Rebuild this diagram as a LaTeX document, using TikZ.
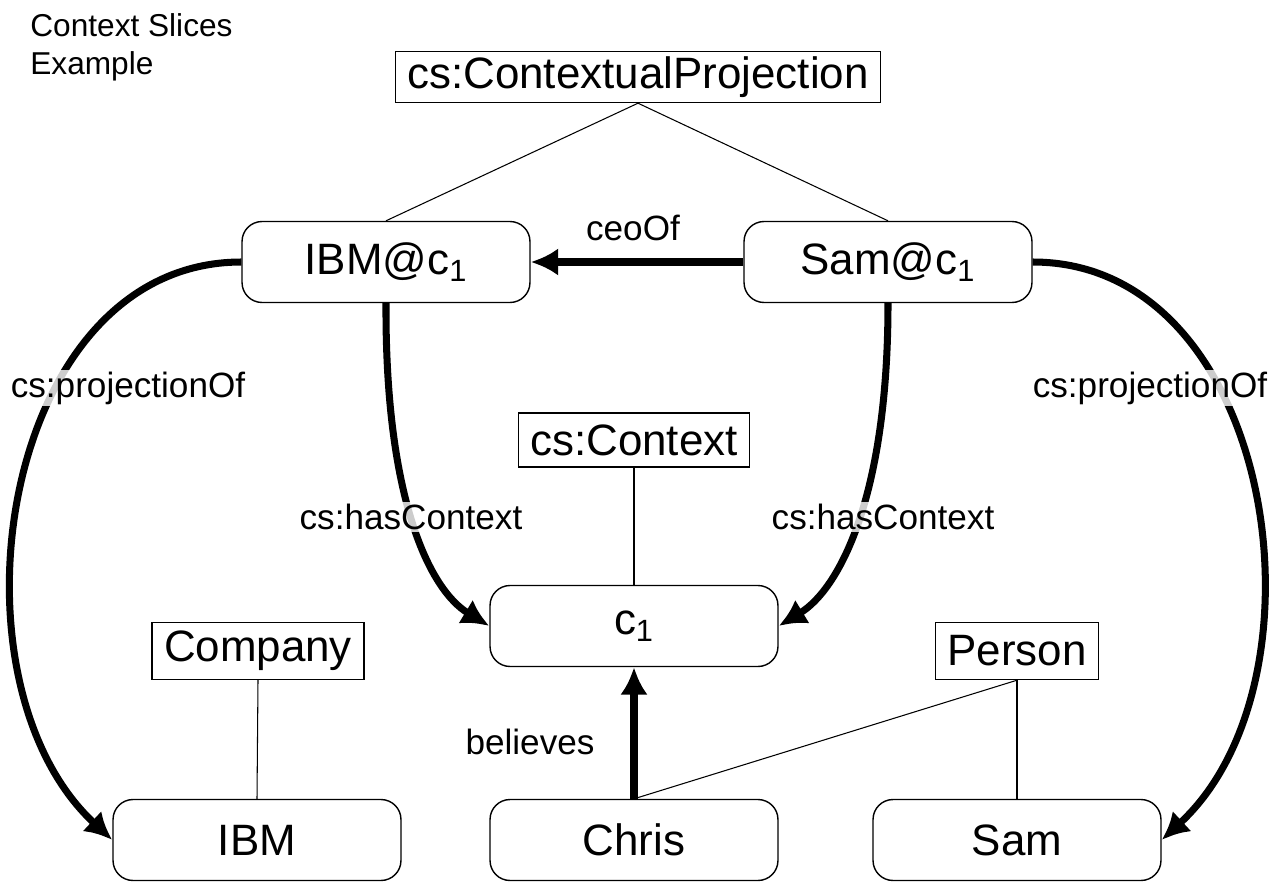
\documentclass[tikz,border=0pt]{standalone}
\usepackage{fontspec}
\setmainfont{Liberation Sans}
\usetikzlibrary{%
  arrows,%
  arrows.meta,%
  positioning,% wg. " of "
  calc
}

\begin{document}
\begin{tikzpicture}
  [
  x=0.02cm, y=-0.02cm,
  font=\fontsize{25}{29}\selectfont, line width=0.6pt, draw=black,
  >={Latex[length=0.55cm,width=0.55cm]},
  class/.style={rectangle, draw=black, line width=0.8pt, inner xsep=0.24cm, inner ysep=0pt, minimum height=1.14cm},
  inst/.style={rectangle, draw=black, line width=0.8pt, rounded corners=0.4cm, minimum width=5.76cm, minimum height=1.62cm},
  rel/.style={->, line width=4pt},
  lbl/.style={font=\fontsize{20}{24}\selectfont, fill=white, fill opacity=0.8, text opacity=1, inner sep=1pt}
  ]

\useasboundingbox (0,0) rectangle (1281,885);

\node[anchor=north west, align=left, font=\fontsize{18}{22}\selectfont] (title) at (24,7) {Context Slices\\Example};

% classes
\node[class, minimum height=1.02cm] (cp) at (638,77) {cs:ContextualProjection};
\node[class, minimum height=1.08cm] (ctx) at (634,440) {cs:Context};
\node[class] (company) at (258,651) {Company};
\node[class] (person) at (1017,651) {Person};

% instances
\node[inst] (ibmc) at (386,262) {IBM@c\textsubscript{1}};
\node[inst] (samc) at (888,262) {Sam@c\textsubscript{1}};
\node[inst] (c1) at (634,626) {c\textsubscript{1}};
\node[inst] (ibm) at (257,840) {IBM};
\node[inst] (chris) at (634,840) {Chris};
\node[inst] (sam) at (1017,840) {Sam};

% type links
\draw (cp.south) -- (ibmc.north);
\draw (cp.south) -- (samc.north);
\draw (ctx.south) -- (c1.north);
\draw (company.south) -- (ibm.north);
\draw (person.south) -- (sam.north);
\draw (person.south) -- (chris.north);

% relations
\draw[rel] (samc.west) -- (ibmc.east);
\draw[rel] (chris.north) -- (c1.south);
\draw[rel] (ibmc.west) .. controls (0,262) and (-60,680) .. (ibm.west);
\draw[rel] (samc.east) .. controls (1275,262) and (1335,680) .. (sam.east);
\draw[rel] (ibmc.south) .. controls (385,500) and (430,590) .. (c1.west);
\draw[rel] (samc.south) .. controls (888,500) and (838,590) .. (c1.east);

\node[lbl] (l1) at (633,228) {ceoOf};
\node[lbl] (l2) at (530,742) {believes};
\node[lbl] (l3) at (411,517) {cs:hasContext};
\node[lbl] (l4) at (883,517) {cs:hasContext};
\node[lbl] (l5) at (128,388) {cs:projectionOf};
\node[lbl] (l6) at (1150,388) {cs:projectionOf};
\end{tikzpicture}
\end{document}
